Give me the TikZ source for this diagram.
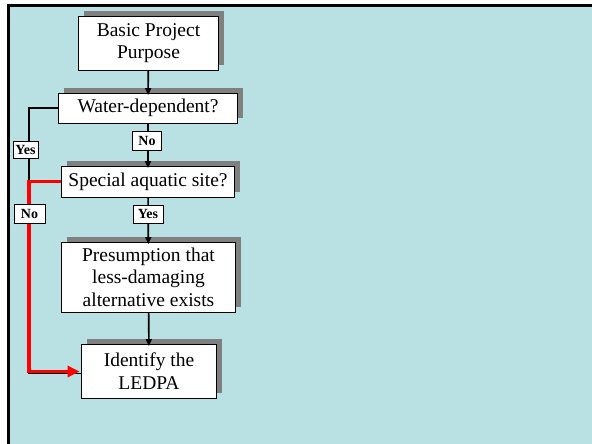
\documentclass[tikz,border=0pt]{standalone}
\usepackage{fontspec}
\setmainfont{Liberation Serif}
\usetikzlibrary{arrows.meta,shadows}
\definecolor{bgcyan}{RGB}{185,224,227}
\definecolor{shadowgray}{RGB}{128,128,128}
\begin{document}
\begin{tikzpicture}[x=1pt,y=-1pt,
  box/.style={draw=black, line width=0.8pt, fill=white, align=center, inner sep=0pt,
    font=\fontsize{19.5}{22.5}\selectfont,
    drop shadow={shadow xshift=5pt, shadow yshift=5pt, fill=shadowgray, opacity=1}},
  lbl/.style={draw=black, line width=0.8pt, fill=white, inner sep=0pt,
    font=\fontsize{14}{16}\selectfont\bfseries},
  conn/.style={line width=1.6pt, -{Triangle[length=7pt,width=6pt]}, shorten >=-2.5pt},
  redconn/.style={red, line width=3.5pt, line join=miter, -{Triangle[length=12pt,width=11pt]}, shorten >=1.5pt}]
\useasboundingbox (0,0) rectangle (592,444);
\fill[white] (0,0) rectangle (592,444);
\fill[bgcyan] (10,7.5) rectangle (592,444);
\fill[black] (7,4.5) rectangle (592,7.5);
\fill[black] (7,4.5) rectangle (10,444);

\node[box, minimum width=140pt, minimum height=54pt] (basic) at (148.5,43) {Basic Project\\Purpose};
\node[box, minimum width=179pt, minimum height=30pt] (water) at (148,108) {Water-dependent?};
\node[box, minimum width=173pt, minimum height=31pt] (special) at (148,181.5) {Special aquatic site?};
\node[box, minimum width=174pt, minimum height=70pt] (presump) at (148.5,277) {Presumption that\\less-damaging\\alternative exists};
\node[box, minimum width=135pt, minimum height=54pt] (identify) at (149,371) {Identify the\\LEDPA};

\draw[conn] (basic) -- (water);
\draw[conn] (water) -- (special);
\draw[conn] (special) -- (presump);
\draw[conn] (presump) -- (identify);

\coordinate (c1) at (29,108);
\coordinate (c2) at (29,373.5);
\draw[line width=1.6pt] (water.west) -- (c1) -- (c2) -- (c2 -| identify.west);

\coordinate (r1) at (29,181.5);
\coordinate (r2) at (29,371.5);
\draw[redconn] (special.west) -- (r1) -- (r2) -- (r2 -| identify.west);

\node[lbl, minimum width=29pt, minimum height=19pt] (nomid) at (147,140.5) {No};
\node[lbl, minimum width=30pt, minimum height=18pt] (yesmid) at (148,214) {Yes};
\node[lbl, minimum width=25pt, minimum height=17pt] (yesleft) at (25.5,149.5) {Yes};
\node[lbl, minimum width=31pt, minimum height=19pt] (noleft) at (29.5,213.5) {No};
\end{tikzpicture}
\end{document}
